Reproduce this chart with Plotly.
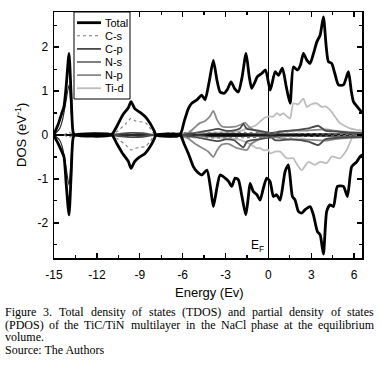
import plotly.graph_objects as go

# ---------------- data ----------------
# Total DOS, spin up
total_up_E = [-15.0, -14.7, -14.45, -14.3, -14.15, -13.95, -13.8, -13.65, -13.5,
              -11.0, -10.6, -10.2, -9.8, -9.61, -9.35, -9.0, -8.63, -8.28, -8.0, -7.86,
              -6.2, -5.9, -5.6, -5.37, -5.0, -4.66, -4.43, -4.15, -3.85, -3.6, -3.38, -3.1,
              -2.85, -2.61, -2.35, -2.1, -1.85, -1.56, -1.35, -1.17, -0.95, -0.77, -0.47,
              -0.2, 0.13, 0.47, 0.7, 0.98, 1.25, 1.52, 1.75, 2.03, 2.25, 2.45, 2.7, 2.92,
              3.15, 3.39, 3.62, 3.85, 4.05, 4.2, 4.43, 4.65, 4.9, 5.25, 5.6, 5.8, 5.95,
              6.2, 6.45, 6.6]
total_up = [0.02, 0.25, 0.5, 0.65, 1.1, 1.86, 0.9, 0.05, 0.0,
            0.0, 0.2, 0.45, 0.62, 0.76, 0.6, 0.52, 0.42, 0.27, 0.1, 0.0,
            0.0, 0.3, 0.6, 0.72, 0.8, 0.91, 0.80, 1.2, 1.70, 1.25, 0.98, 0.95,
            1.05, 1.21, 1.05, 0.98, 1.3, 1.86, 1.35, 1.06, 1.2, 1.33, 1.40,
            1.48, 1.02, 1.44, 1.36, 1.52, 1.1, 0.72, 1.55, 1.48, 1.6, 1.86, 1.7, 1.63,
            1.85, 2.12, 2.27, 2.69, 2.0, 1.67, 1.63, 1.4, 1.14, 1.14, 1.44, 1.0, 0.76,
            0.65, 0.55, 0.5]

# Total DOS, spin down (plotted negative)
total_dn_E = [-15.0, -14.7, -14.45, -14.3, -14.15, -13.95, -13.8, -13.65, -13.5,
              -10.96, -10.6, -10.2, -9.8, -9.61, -9.35, -9.0, -8.63, -8.28, -8.0, -7.86,
              -6.18, -5.9, -5.6, -5.25, -4.95, -4.66, -4.3, -4.05, -3.85, -3.6, -3.38,
              -3.03, -2.8, -2.56, -2.33, -2.1, -1.85, -1.58, -1.4, -1.28, -1.05, -0.8,
              -0.58, -0.35, -0.12, 0.12, 0.35, 0.58, 0.82, 1.17, 1.4, 1.68, 1.87, 2.1,
              2.33, 2.57, 2.92, 3.15, 3.43, 3.62, 3.85, 4.08, 4.31, 4.55, 4.83, 5.25,
              5.53, 5.83, 6.18, 6.42, 6.6]
total_dn = [-0.02, -0.2, -0.38, -0.5, -1.1, -1.82, -0.9, -0.05, 0.0,
            0.0, -0.2, -0.42, -0.6, -0.76, -0.6, -0.5, -0.42, -0.27, -0.1, 0.0,
            0.0, -0.2, -0.42, -0.72, -0.85, -0.91, -0.8, -1.2, -1.63, -1.2, -0.91,
            -0.98, -1.05, -1.17, -0.98, -1.02, -1.4, -1.82, -1.4, -1.1, -1.29, -1.36,
            -1.48, -1.21, -0.98, -1.06, -1.4, -1.36, -1.48, -0.83, -0.68, -1.4, -1.48, -1.74,
            -1.78, -1.7, -1.63, -1.82, -2.2, -2.27, -2.71, -1.74, -1.59, -1.63, -1.17, -1.17,
            -1.4, -0.72, -0.61, -0.49, -0.45]

# C-s
cs_up_E = [-14.3, -13.95, -13.6, -10.96, -10.5, -10.0, -9.61, -9.3, -8.9, -8.6, -8.3, -7.9, 6.6]
cs_up = [0.0, 0.06, 0.0, 0.0, 0.1, 0.25, 0.38, 0.32, 0.3, 0.28, 0.17, 0.0, 0.0]
cs_dn_E = [-14.3, -13.95, -13.6, -10.96, -10.5, -10.0, -9.61, -9.3, -8.9, -8.6, -8.3, -7.9, 6.6]
cs_dn = [0.0, -0.05, 0.0, 0.0, -0.1, -0.22, -0.34, -0.3, -0.28, -0.26, -0.16, 0.0, 0.0]

# C-p
cp_up_E = [-10.9, -10.3, -9.6, -8.8, -8.0, -6.2, -5.5, -4.9, -4.2, -3.5, -3.03, -2.5, -2.0,
           -1.75, -1.51, -1.2, -0.7, 0.23, 0.8, 1.63, 2.2, 2.8, 3.5, 3.97, 4.8, 5.6, 6.6]
cp_up = [0.0, 0.03, 0.05, 0.04, 0.0, 0.0, 0.03, 0.06, 0.1, 0.14, 0.1, 0.1, 0.15,
         0.25, 0.14, 0.12, 0.1, 0.05, 0.08, 0.1, 0.12, 0.15, 0.21, 0.1, 0.08, 0.05, 0.05]
cp_dn_E = [-10.9, -10.3, -9.6, -8.8, -8.0, -6.2, -4.9, -3.5, -3.0, -2.4, -1.75, -1.5,
           -0.7, 0.2, 0.5, 1.6, 2.8, 3.5, 3.97, 5.6, 6.6]
cp_dn = [0.0, -0.03, -0.05, -0.04, 0.0, 0.0, -0.06, -0.14, -0.1, -0.12, -0.28, -0.15,
         -0.1, -0.06, -0.12, -0.1, -0.15, -0.23, -0.1, -0.05, -0.05]

# N-s
ns_up_E = [-15.0, -14.6, -14.4, -14.2, -13.95, -13.8, -13.65, -13.5, -6.0, -4.0, -2.0, 0.0, 3.0, 6.6]
ns_up = [0.0, 0.15, 0.35, 0.7, 1.14, 0.55, 0.02, 0.0, 0.0, 0.03, 0.03, 0.02, 0.03, 0.02]
ns_dn_E = [-15.0, -14.6, -14.4, -14.2, -13.95, -13.8, -13.65, -13.5, -6.0, -4.0, -2.0, 0.0, 3.0, 6.6]
ns_dn = [0.0, -0.12, -0.3, -0.65, -1.14, -0.55, -0.02, 0.0, 0.0, -0.03, -0.03, -0.02, -0.03, -0.02]

# N-p
np_up_E = [-6.2, -5.6, -5.13, -4.8, -4.43, -4.1, -3.85, -3.6, -3.27, -2.8, -2.33, -1.9,
           -1.63, -1.4, -1.17, -0.47, 0.23, 1.4, 2.5, 3.97, 5.0, 6.07, 6.6]
np_up = [0.0, 0.05, 0.18, 0.27, 0.32, 0.42, 0.55, 0.35, 0.2, 0.18, 0.19, 0.24,
         0.28, 0.2, 0.14, 0.06, 0.02, 0.1, 0.1, 0.13, 0.08, 0.06, 0.05]
np_dn_E = [-6.2, -5.6, -5.13, -4.6, -4.2, -3.85, -3.6, -3.27, -2.8, -2.2, -1.9, -1.5,
           -1.2, -0.5, 0.2, 1.4, 2.5, 4.0, 5.0, 6.6]
np_dn = [0.0, -0.08, -0.2, -0.3, -0.38, -0.5, -0.35, -0.22, -0.2, -0.3, -0.32, -0.34,
         -0.2, -0.08, -0.04, -0.1, -0.1, -0.13, -0.08, -0.05]

# Ti-d
tid_up_E = [-6.2, -5.0, -4.0, -3.0, -2.2, -1.87, -1.5, -0.93, -0.6, -0.23, 0.0, 0.35, 0.6,
            0.8, 1.05, 1.3, 1.52, 1.75, 2.1, 2.45, 2.68, 3.0, 3.39, 3.73, 4.0, 4.31, 4.7,
            5.0, 5.4, 5.7, 6.1, 6.6]
tid_up = [0.0, 0.03, 0.05, 0.06, 0.08, 0.1, 0.15, 0.21, 0.3, 0.4, 0.42, 0.42, 0.5,
          0.45, 0.49, 0.42, 0.38, 0.72, 0.7, 0.83, 0.64, 0.7, 0.72, 0.64, 0.65, 0.57, 0.4,
          0.27, 0.2, 0.15, 0.12, 0.1]
tid_dn_E = [-6.2, -4.0, -2.5, -1.87, -1.2, -0.8, -0.58, -0.3, 0.0, 0.12, 0.47, 0.82,
            1.28, 1.75, 1.87, 2.33, 2.8, 3.27, 3.62, 4.08, 4.43, 5.0, 5.48, 5.95, 6.6]
tid_dn = [0.0, -0.05, -0.08, -0.12, -0.22, -0.3, -0.3, -0.35, -0.34, -0.42, -0.38, -0.38,
          -0.53, -0.53, -0.6, -0.8, -0.61, -0.68, -0.61, -0.64, -0.49, -0.53, -0.34, -0.02, 0.0]

x_ticks = [-15, -12, -9, -6, -3, 0, 3, 6]
y_ticks = [-2, -1, 0, 1, 2]

legend_names = ["Total", "C-s", "C-p", "N-s", "N-p", "Ti-d"]

caption_lines = [
    "Figure 3. Total density of states (TDOS) and partial density of states",
    "(PDOS) of the TiC/TiN multilayer in the NaCl phase at the equilibrium",
    "volume.",
    "Source: The Authors",
]
caption_justified = [True, True, False, False]

# ---------------- figure ----------------
W, H = 381, 366
ML, MR, MT, MB = 54, 19, 12, 108
PW, PH = W - ML - MR, H - MT - MB


def px(xp):
    return (xp - ML) / PW


def py(yp):  # yp measured from top of the image
    return (H - MB - yp) / PH


styles = [
    dict(color="black", width=2.8),
    dict(color="#7a7a7a", width=1.1, dash="dot"),
    dict(color="#4a4a4a", width=1.8),
    dict(color="#2a2a2a", width=1.2),
    dict(color="#8a8a8a", width=1.8),
    dict(color="#bdbdbd", width=1.8),
]
data_sets = [
    (total_up_E, total_up, total_dn_E, total_dn),
    (cs_up_E, cs_up, cs_dn_E, cs_dn),
    (cp_up_E, cp_up, cp_dn_E, cp_dn),
    (ns_up_E, ns_up, ns_dn_E, ns_dn),
    (np_up_E, np_up, np_dn_E, np_dn),
    (tid_up_E, tid_up, tid_dn_E, tid_dn),
]

fig = go.Figure()
for i in reversed(range(len(legend_names))):
    eu, vu, ed, vd = data_sets[i]
    fig.add_trace(go.Scatter(
        x=list(eu) + [None] + list(ed),
        y=list(vu) + [None] + list(vd),
        mode="lines", name=legend_names[i],
        line=dict(shape="spline", smoothing=0.6, **styles[i]),
        connectgaps=False, showlegend=False, hoverinfo="skip",
    ))

axis_common = dict(
    showline=True, linecolor="black", linewidth=1.5, mirror="ticks",
    ticks="inside", ticklen=5, tickwidth=1.3, tickcolor="black",
    showgrid=False, zeroline=True, zerolinecolor="black", zerolinewidth=1.6,
    tickfont=dict(size=12, color="black"), automargin=False,
)

fig.update_xaxes(range=[-15, 6.55], tickmode="array", tickvals=x_ticks,
                 ticktext=[str(v) for v in x_ticks], ticklabelstandoff=5,
                 minor=dict(dtick=1.5, tick0=0, ticks="inside", ticklen=3, tickcolor="black", tickwidth=1.2),
                 **axis_common)
fig.update_yaxes(range=[-2.8, 2.8], tickmode="array", tickvals=y_ticks,
                 ticktext=[str(v) for v in y_ticks], ticklabelstandoff=2,
                 minor=dict(dtick=0.5, tick0=0, ticks="inside", ticklen=3, tickcolor="black", tickwidth=1.2),
                 **axis_common)

annotations = [
    dict(x=0, y=-2.52, xref="x", yref="y", text="E<sub>F</sub>", showarrow=False,
         xanchor="right", yanchor="middle", xshift=-2, font=dict(size=12, color="black")),
    dict(x=px(209), y=py(292), xref="paper", yref="paper", text="Energy (Ev)",
         showarrow=False, xanchor="center", yanchor="middle", font=dict(size=13, color="black")),
    dict(x=px(21), y=py(135), xref="paper", yref="paper", text="DOS (eV<sup>-1</sup>)",
         showarrow=False, xanchor="center", yanchor="middle", textangle=-90,
         font=dict(size=13, color="black")),
]
shapes = []

# legend box (drawn manually to match the compact reference legend)
shapes.append(dict(type="rect", xref="paper", yref="paper",
                   x0=px(74), x1=px(130), y0=py(99), y1=py(12),
                   line=dict(color="black", width=1), fillcolor="white", layer="above"))
row_y = [22.7, 35.8, 48.9, 62.0, 75.1, 88.2]
for name, st, ry in zip(legend_names, styles, row_y):
    shapes.append(dict(type="line", xref="paper", yref="paper",
                       x0=px(77), x1=px(101), y0=py(ry), y1=py(ry),
                       line=st, layer="above"))
    annotations.append(dict(x=px(103), y=py(ry), xref="paper", yref="paper", text=name,
                            showarrow=False, xanchor="left", yanchor="middle",
                            font=dict(size=11, color="black")))

# caption (first two lines justified word by word between x=3 and x=372 px),
# using Times-compatible advance widths (per 1000 em) to place the words
TIMES_W = {" ": 250, "(": 333, ")": 333, ".": 250, "/": 278, ":": 278, "-": 333}
TIMES_W.update({d: 500 for d in "0123456789"})
TIMES_W.update(dict(zip("abcdefghijklmnopqrstuvwxyz",
                        [444, 500, 444, 500, 444, 333, 500, 500, 278, 278, 500, 278, 778,
                         500, 500, 500, 500, 333, 389, 278, 500, 500, 722, 500, 500, 444])))
TIMES_W.update(dict(zip("ABCDEFGHIJKLMNOPQRSTUVWXYZ",
                        [722, 667, 667, 722, 611, 556, 722, 722, 333, 389, 722, 611, 889,
                         722, 722, 556, 722, 667, 556, 611, 722, 722, 944, 722, 722, 611])))
CAP_FS = 12


def text_width(s):
    return sum(TIMES_W.get(c, 500) for c in s) * CAP_FS / 1000.0


cap_font = dict(family="Liberation Serif, Times New Roman, serif", size=CAP_FS, color="black")
cap_y = [312, 325, 337, 350]
CAP_L, CAP_R = 3, 372
for line, just, yp in zip(caption_lines, caption_justified, cap_y):
    if not just:
        annotations.append(dict(x=px(CAP_L), y=py(yp), xref="paper", yref="paper", text=line,
                                showarrow=False, xanchor="left", yanchor="middle", font=cap_font))
        continue
    words = line.split(" ")
    widths = [text_width(w) for w in words]
    gap = (CAP_R - CAP_L - sum(widths)) / (len(words) - 1)
    xcur = CAP_L
    for w, ww in zip(words, widths):
        annotations.append(dict(x=px(xcur), y=py(yp), xref="paper", yref="paper", text=w,
                                showarrow=False, xanchor="left", yanchor="middle", font=cap_font))
        xcur += ww + gap

fig.update_layout(
    width=W, height=H,
    margin=dict(l=ML, r=MR, t=MT, b=MB),
    paper_bgcolor="white", plot_bgcolor="white",
    font=dict(family="Liberation Sans, Arial, sans-serif", color="black"),
    showlegend=False, hovermode=False,
    annotations=annotations, shapes=shapes,
)

fig.write_html("out.html", config={"displayModeBar": False, "staticPlot": True},
               post_script="document.body.style.margin='0';document.body.style.padding='0';")
